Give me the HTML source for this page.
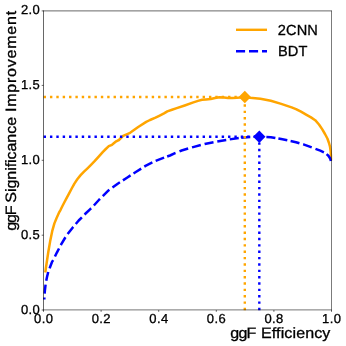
<!DOCTYPE html>
<html>
<head>
<meta charset="utf-8">
<title>ggF Significance Improvement vs ggF Efficiency</title>
<style>
  html, body { margin:0; padding:0; background:#ffffff; }
  body { width:346px; height:346px; overflow:hidden; }
  svg { display:block; }
  text { font-family: "Liberation Sans", sans-serif; fill:#000000; stroke:#000000; stroke-width:0.3px; text-rendering:geometricPrecision; }
  svg { opacity:0.999; will-change:transform; }
  .tick { font-size:13px; }
  .lab { font-size:15px; }
  .leg { font-size:14.6px; }
</style>
</head>
<body>
<svg width="346" height="346" viewBox="0 0 346 346">
  <rect x="0" y="0" width="346" height="346" fill="#ffffff"/>

  <!-- 2CNN curve -->
  <polyline fill="none" stroke="#ffa500" stroke-width="2.5" stroke-linejoin="round" stroke-linecap="butt"
    points="45.3,272.5 45.9,268 47.1,260 48.3,252 50.1,241.6 52.2,231.2 54.4,223.4 56.5,218.2 59.3,212.1 60.6,209.8 62.2,206.5 64,203 66.3,198.7 69,193.6 71.7,188.5 74.4,183.6 77.3,179.3 80.4,175.4 84,171.7 87.5,168.3 91,164.8 94.6,161.2 98.7,156.6 102.7,152.1 105.8,149 108.8,146.2 112,144.8 116.2,141.3 118.9,140 123.1,135.8 130.1,132.8 138.2,127 146.2,121.9 150,120 155.5,117.7 158.7,116.1 164,113.4 167.3,111.4 172,109.8 176,108.4 184.7,105.5 193.4,102.4 198,100.9 202,99.8 206,99.4 210.7,99 215,98 219.4,97.3 224,97.4 228,97.9 232.4,98.1 236.7,97.8 240,97.4 242.5,96.9 244.8,96.9 250,97.7 260.4,98.7 270.8,100.8 281.2,103.9 291.6,107.4 296,109.1 301,111.7 306.1,114.6 311,117.4 315.2,120.2 319,124.5 322.3,129.4 325,134 327.4,138.5 329,143 330,146.6 330.6,151 330.9,155 331,160.5"/>

  <!-- BDT curve -->
  <g fill="none" stroke="#0000ff" stroke-width="2.5" stroke-linejoin="round" stroke-linecap="butt">
    <polyline points="44.30,299.50 44.50,295.00 44.90,290.50 45.40,286.00 46.10,281.50 47.00,277.00 48.30,271.70 50.00,267.30 52.00,262.00 54.00,258.50 57.00,252.30 61.30,244.20 66.50,235.50 72.60,227.70 78.70,220.50 85.60,213.50 90.00,209.30 92.60,206.90 99.30,199.50 100.01,198.80" stroke-dasharray="9.065 3.885" stroke-dashoffset="7.10"/>
    <polyline points="102.77,196.07 108.50,190.40 109.34,189.79"/>
    <polyline points="112.47,187.51 117.70,183.70 119.91,182.27"/>
    <polyline points="122.93,180.33 127.00,177.70 130.56,175.38"/>
    <polyline points="133.52,173.45 136.20,171.70 141.21,168.58"/>
    <polyline points="144.30,166.65 145.50,165.90 152.37,162.47"/>
    <polyline points="155.67,160.91 164.00,157.60 164.13,157.55"/>
    <polyline points="167.16,156.49 170.00,155.50 175.00,153.20 175.54,152.98"/>
    <polyline points="179.51,151.35 181.60,150.50 188.16,148.56"/>
    <polyline points="192.01,147.42 193.10,147.10 200.80,145.04"/>
    <polyline points="204.59,144.03 204.70,144.00 213.51,142.24"/>
    <polyline points="217.27,141.52 226.23,139.97"/>
    <polyline points="229.76,139.38 238.74,137.91"/>
    <polyline points="241.22,137.65 250.00,136.90 250.28,136.89"/>
    <polyline points="254.10,136.81 259.40,136.70 263.20,136.87"/>
    <polyline points="266.36,137.01 270.80,137.20 275.38,138.04"/>
    <polyline points="278.38,138.58 281.20,139.10 287.31,140.33"/>
    <polyline points="290.61,141.00 291.60,141.20 296.00,142.20 299.43,143.22"/>
    <polyline points="303.16,144.32 304.10,144.60 311.72,147.42"/>
    <polyline points="315.48,148.82 320.30,150.60 323.89,152.29"/>
    <polyline points="326.60,154.08 328.40,155.70 330.20,158.50 330.90,161.00"/>
  </g>

  <!-- dotted guide lines -->
  <g fill="none" stroke-width="2.4" stroke-dasharray="2.4 3.96">
    <path d="M43.6 136.8 H259.3" stroke="#0000ff"/>
    <path d="M259.3 310.2 V136.8" stroke="#0000ff"/>
    <path d="M43.6 97 H244.8" stroke="#ffa500"/>
    <path d="M244.8 310.2 V97" stroke="#ffa500"/>
  </g>

  <!-- markers -->
  <path d="M244.8 90.8 L251 97 L244.8 103.2 L238.6 97 Z" fill="#ffa500"/>
  <path d="M259.3 130.6 L265.5 136.8 L259.3 143 L253.1 136.8 Z" fill="#0000ff"/>

  <!-- axes frame -->
  <g stroke="#000000" stroke-width="0.6" fill="none">
    <path d="M43.5 10.6 V310.3"/>
    <path d="M331.5 10.6 V310.3" stroke-width="0.52"/>
    <path d="M43.2 10.9 H331.7"/>
    <path d="M43.2 309.9 H331.75" stroke-width="0.55"/>
  </g>

  <!-- ticks -->
  <g stroke="#000000" stroke-width="0.6" fill="none">
    <path d="M41.7 10.9 H43.5 M41.7 85.4 H43.5 M41.7 160.3 H43.5 M41.7 235.2 H43.5 M41.7 310 H43.5"/>
    <path d="M43.5 310 V311.8 M101.1 310 V311.8 M158.7 310 V311.8 M216.3 310 V311.8 M273.9 310 V311.8 M331.5 310 V311.8"/>
  </g>

  <!-- y tick labels -->
  <g class="tick" text-anchor="end">
    <text x="39.8" y="14" textLength="18.9" lengthAdjust="spacing">2.0</text>
    <text x="39.8" y="88.8" textLength="18.9" lengthAdjust="spacing">1.5</text>
    <text x="39.8" y="163.7" textLength="18.9" lengthAdjust="spacing">1.0</text>
    <text x="39.8" y="238.7" textLength="18.9" lengthAdjust="spacing">0.5</text>
    <text x="39.8" y="313.6" textLength="18.9" lengthAdjust="spacing">0.0</text>
  </g>

  <!-- x tick labels -->
  <g class="tick" text-anchor="middle">
    <text x="43.5" y="322.8" textLength="18.9" lengthAdjust="spacing">0.0</text>
    <text x="101.1" y="322.8" textLength="18.9" lengthAdjust="spacing">0.2</text>
    <text x="158.7" y="322.8" textLength="18.9" lengthAdjust="spacing">0.4</text>
    <text x="216.3" y="322.8" textLength="18.9" lengthAdjust="spacing">0.6</text>
    <text x="273.9" y="322.8" textLength="18.9" lengthAdjust="spacing">0.8</text>
    <text x="331.5" y="322.8" textLength="18.9" lengthAdjust="spacing">1.0</text>
  </g>

  <!-- axis labels -->
  <text class="lab" transform="translate(230.3 337.6) scale(1.07 1)" textLength="24.30" lengthAdjust="spacing">ggF</text>
  <text class="lab" transform="translate(261 337.6) scale(1.07 1)" textLength="64.86" lengthAdjust="spacing">Efficiency</text>
  <text class="lab" transform="translate(15.7 230.7) rotate(-90) scale(1.07 1)" textLength="23.64" lengthAdjust="spacing">ggF</text>
  <text class="lab" transform="translate(15.7 202.7) rotate(-90) scale(1.07 1)" textLength="80.19" lengthAdjust="spacing">Significance</text>
  <text class="lab" transform="translate(15.7 112) rotate(-90) scale(1.07 1)" textLength="94.58" lengthAdjust="spacing">Improvement</text>

  <!-- legend -->
  <path d="M236 29.8 H267" stroke="#ffa500" stroke-width="2.4" fill="none"/>
  <path d="M236 51.2 H267" stroke="#0000ff" stroke-width="2.4" stroke-dasharray="9.1 3.9" fill="none"/>
  <text class="leg" x="277.8" y="35" textLength="40" lengthAdjust="spacing">2CNN</text>
  <text class="leg" x="277.9" y="55.5" textLength="29.4" lengthAdjust="spacing">BDT</text>
</svg>
</body>
</html>
